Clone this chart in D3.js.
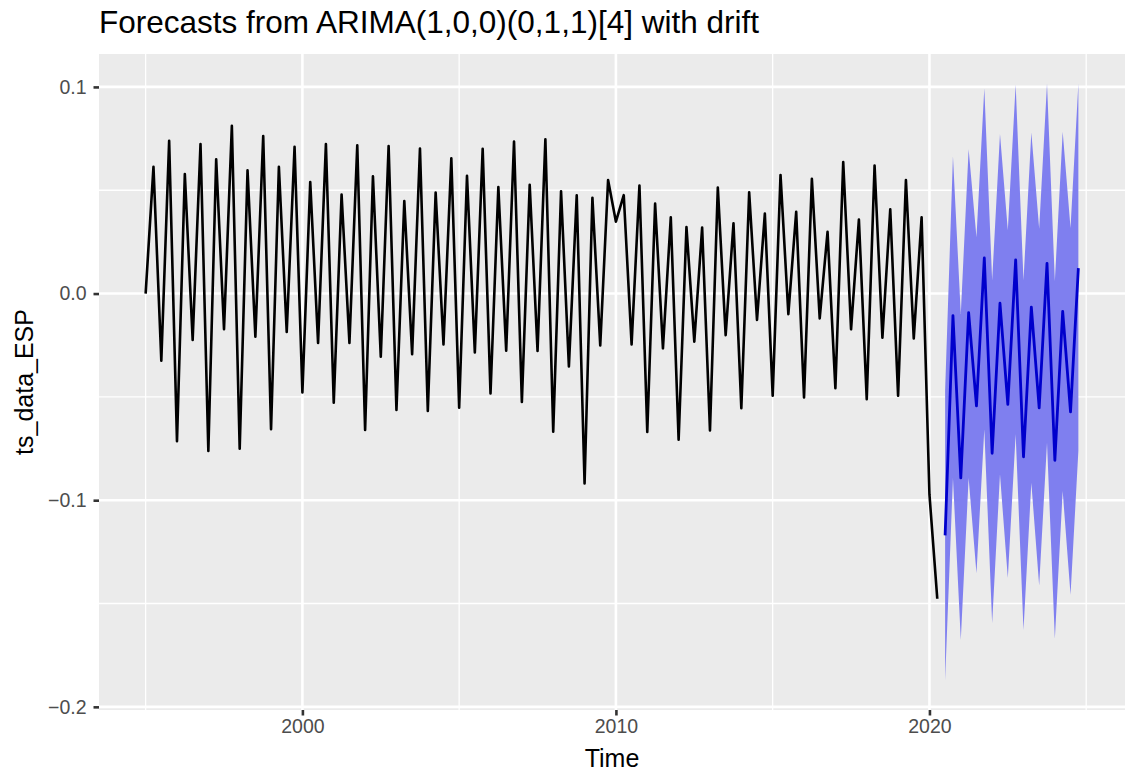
<!DOCTYPE html>
<html>
<head>
<meta charset="utf-8">
<script src="https://cdn.jsdelivr.net/npm/d3@7"></script>
<style>
  html, body { margin: 0; padding: 0; background: #ffffff; }
  svg { display: block; font-family: "Liberation Sans", Arial, Helvetica, sans-serif; }
</style>
</head>
<body>
<svg id="chart" width="1125" height="774"></svg>
<script>
// ---- Data ----
const seriesStart = 1995;       // first observation: 1995 Q1
const seriesFreq = 4;           // quarterly
const histValues = [
  0.000, 0.0613, -0.0325, 0.0739,
  -0.0714, 0.0578, -0.0225, 0.0723,
  -0.0762, 0.0650, -0.0173, 0.0812,
  -0.0751, 0.0597, -0.0209, 0.0762,
  -0.0657, 0.0613, -0.0186, 0.0710,
  -0.0479, 0.0540, -0.0239, 0.0723,
  -0.0528, 0.0479, -0.0239, 0.0718,
  -0.0660, 0.0568, -0.0306, 0.0714,
  -0.0563, 0.0448, -0.0293, 0.0702,
  -0.0568, 0.0489, -0.0246, 0.0655,
  -0.0552, 0.0570, -0.0285, 0.0701,
  -0.0484, 0.0515, -0.0277, 0.0736,
  -0.0524, 0.0526, -0.0278, 0.0746,
  -0.0668, 0.0495, -0.0353, 0.0476,
  -0.0919, 0.0464, -0.0251, 0.0549,
  0.0348, 0.0476, -0.0246, 0.0523,
  -0.0670, 0.0435, -0.0265, 0.0369,
  -0.0707, 0.0322, -0.0233, 0.0319,
  -0.0662, 0.0513, -0.0201, 0.0340,
  -0.0555, 0.0490, -0.0128, 0.0387,
  -0.0494, 0.0574, -0.0100, 0.0396,
  -0.0503, 0.0555, -0.0120, 0.0299,
  -0.0458, 0.0636, -0.0173, 0.0358,
  -0.0511, 0.0620, -0.0214, 0.0408,
  -0.0494, 0.0549, -0.0217, 0.0369,
  -0.0972, -0.1477
];
const forecastStart = 2020.5;   // 2020 Q3
const forecastMean = [
  -0.1170, -0.0107, -0.0892, -0.0092,
  -0.0544, 0.0172, -0.0773, -0.0047,
  -0.0536, 0.0163, -0.0790, -0.0066,
  -0.0553, 0.0146, -0.0807, -0.0086,
  -0.0573, 0.0123
];
const forecastUpper = [
  -0.0470, 0.0665, -0.0099, 0.0698,
  0.0273, 0.0994, 0.0063, 0.0772,
  0.0306, 0.1010, 0.0063, 0.0780,
  0.0314, 0.1015, 0.0060, 0.0783,
  0.0317, 0.1015
];
const forecastLower = [
  -0.1871, -0.0892, -0.1676, -0.0892,
  -0.1353, -0.0657, -0.1595, -0.0875,
  -0.1377, -0.0681, -0.1628, -0.0916,
  -0.1413, -0.0722, -0.1671, -0.0956,
  -0.1458, -0.0762
];
const xMajorTicks = [2000, 2010, 2020];
const xMinorTicks = [1995, 2005, 2015, 2025];
const yMajorTicks = [-0.2, -0.1, 0.0, 0.1];
const yMinorTicks = [-0.15, -0.05, 0.05];
const yTickLabels = ["\u22120.2", "\u22120.1", "0.0", "0.1"];
const titleText = "Forecasts from ARIMA(1,0,0)(0,1,1)[4] with drift";
const xTitle = "Time";
const yTitle = "ts_data_ESP";

// ---- Build records ----
const hist = histValues.map((v, i) => ({ t: seriesStart + i / seriesFreq, v }));
const fc = forecastMean.map((v, i) => ({
  t: forecastStart + i / seriesFreq, v, lo: forecastLower[i], hi: forecastUpper[i]
}));

// ---- Layout ----
const panel = { left: 99, top: 54, right: 1125, bottom: 710 };

const tMin = hist[0].t, tMax = fc[fc.length - 1].t;
const tPad = (tMax - tMin) * 0.05;
const x = d3.scaleLinear().domain([tMin - tPad, tMax + tPad]).range([panel.left, panel.right]);

const allY = hist.map(d => d.v).concat(forecastLower, forecastUpper);
const yLo = d3.min(allY), yHi = d3.max(allY);
const yPad = (yHi - yLo) * 0.05;
const y = d3.scaleLinear().domain([yLo - yPad, yHi + yPad]).range([panel.bottom, panel.top]);

const svg = d3.select("#chart");

// Panel background
svg.append("rect")
  .attr("x", panel.left).attr("y", panel.top)
  .attr("width", panel.right - panel.left).attr("height", panel.bottom - panel.top)
  .attr("fill", "#EBEBEB");

const grid = svg.append("g");
// minor gridlines
grid.selectAll("line.xmin").data(xMinorTicks).enter().append("line")
  .attr("x1", d => x(d)).attr("x2", d => x(d))
  .attr("y1", panel.top).attr("y2", panel.bottom)
  .attr("stroke", "#ffffff").attr("stroke-width", 1.3);
grid.selectAll("line.ymin").data(yMinorTicks).enter().append("line")
  .attr("y1", d => y(d)).attr("y2", d => y(d))
  .attr("x1", panel.left).attr("x2", panel.right)
  .attr("stroke", "#ffffff").attr("stroke-width", 1.3);
// major gridlines
grid.selectAll("line.xmaj").data(xMajorTicks).enter().append("line")
  .attr("x1", d => x(d)).attr("x2", d => x(d))
  .attr("y1", panel.top).attr("y2", panel.bottom)
  .attr("stroke", "#ffffff").attr("stroke-width", 2.6);
grid.selectAll("line.ymaj").data(yMajorTicks).enter().append("line")
  .attr("y1", d => y(d)).attr("y2", d => y(d))
  .attr("x1", panel.left).attr("x2", panel.right)
  .attr("stroke", "#ffffff").attr("stroke-width", 2.6);

// Clip to panel
svg.append("clipPath").attr("id", "clip")
  .append("rect").attr("x", panel.left).attr("y", panel.top)
  .attr("width", panel.right - panel.left).attr("height", panel.bottom - panel.top);
const plot = svg.append("g").attr("clip-path", "url(#clip)");

// Historical line
plot.append("path").datum(hist)
  .attr("fill", "none").attr("stroke", "#000000").attr("stroke-width", 2.6)
  .attr("stroke-linejoin", "round")
  .attr("d", d3.line().x(d => x(d.t)).y(d => y(d.v)));

// Forecast band
plot.append("path").datum(fc)
  .attr("fill", "#7F7FEF").attr("stroke", "none")
  .attr("d", d3.area().x(d => x(d.t)).y0(d => y(d.lo)).y1(d => y(d.hi)));

// Forecast mean line
plot.append("path").datum(fc)
  .attr("fill", "none").attr("stroke", "#0000CC").attr("stroke-width", 2.8)
  .attr("stroke-linejoin", "round")
  .attr("d", d3.line().x(d => x(d.t)).y(d => y(d.v)));

// Axes
const xAxis = d3.axisBottom(x).tickValues(xMajorTicks).tickFormat(d3.format("d"))
  .tickSize(5.5).tickPadding(4);
const gx = svg.append("g").attr("transform", `translate(0,${panel.bottom})`).call(xAxis);
gx.select(".domain").remove();
gx.selectAll(".tick line").attr("stroke", "#333333").attr("stroke-width", 2.6);
gx.selectAll(".tick text").attr("fill", "#4D4D4D").attr("font-size", "19.5px")
  .attr("font-family", "Liberation Sans, Arial, sans-serif");

const yAxis = d3.axisLeft(y).tickValues(yMajorTicks)
  .tickFormat((d, i) => yTickLabels[i]).tickSize(5.5).tickPadding(7);
const gy = svg.append("g").attr("transform", `translate(${panel.left},0)`).call(yAxis);
gy.select(".domain").remove();
gy.selectAll(".tick line").attr("stroke", "#333333").attr("stroke-width", 2.6);
gy.selectAll(".tick text").attr("fill", "#4D4D4D").attr("font-size", "19.5px")
  .attr("font-family", "Liberation Sans, Arial, sans-serif");

// Titles
svg.append("text")
  .attr("x", panel.left).attr("y", 33)
  .attr("font-size", "31.5px").attr("fill", "#000000")
  .text(titleText);

svg.append("text")
  .attr("x", (panel.left + panel.right) / 2).attr("y", 767)
  .attr("text-anchor", "middle").attr("font-size", "25px").attr("fill", "#000000")
  .text(xTitle);

svg.append("text")
  .attr("transform", `translate(33,${(panel.top + panel.bottom) / 2}) rotate(-90)`)
  .attr("text-anchor", "middle").attr("font-size", "25px").attr("fill", "#000000")
  .text(yTitle);
</script>
</body>
</html>
